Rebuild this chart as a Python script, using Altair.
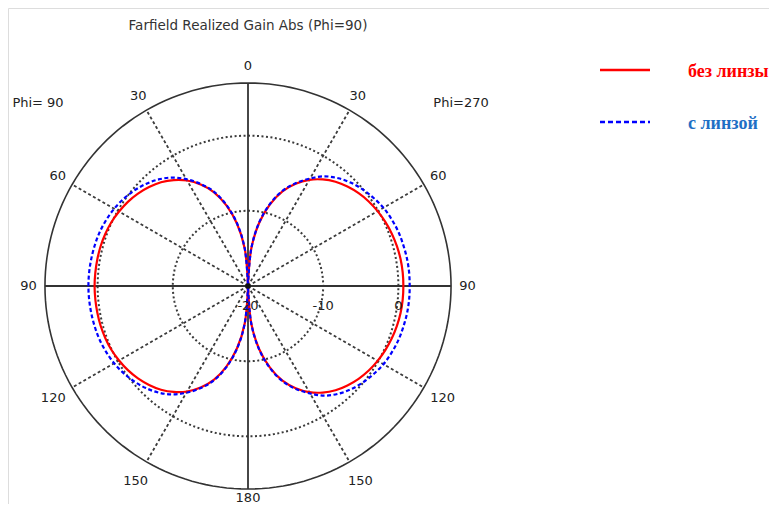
import altair as alt
import pandas as pd
import numpy as np

# ---------------- data ----------------
theta_deg = list(range(0, 181, 5))  # theta 0..180, step 5

# right half (Phi=270)
red_right = [-25, -15, -11.5, -8.8, -6.6, -5.0, -3.7, -2.7, -1.9, -1.3, -0.8, -0.4, -0.1, 0.15, 0.35, 0.5, 0.6, 0.65, 0.66,
             0.65, 0.6, 0.5, 0.35, 0.15, -0.1, -0.4, -0.8, -1.3, -1.9, -2.7, -3.7, -5.0, -6.6, -8.8, -11.5, -15, -25]
blue_right = [-25, -15, -11.4, -8.7, -6.5, -4.9, -3.5, -2.2, -1.3, -0.6, -0.05, 0.4, 0.8, 1.05, 1.25, 1.35, 1.45, 1.5, 1.5,
              1.5, 1.45, 1.35, 1.25, 1.05, 0.8, 0.4, -0.05, -0.6, -1.3, -2.2, -3.5, -4.9, -6.5, -8.7, -11.4, -15, -25]
# left half (Phi=90)
red_left = [-25, -15, -11.6, -8.9, -6.7, -5.1, -3.8, -2.8, -2.0, -1.4, -0.9, -0.5, -0.2, 0.05, 0.2, 0.3, 0.35, 0.38, 0.4,
            0.38, 0.35, 0.3, 0.2, 0.05, -0.2, -0.5, -0.9, -1.4, -2.0, -2.8, -3.8, -5.1, -6.7, -8.9, -11.6, -15, -25]
blue_left = [-25, -15, -11.5, -8.8, -6.6, -5.0, -3.6, -2.4, -1.5, -0.8, -0.25, 0.2, 0.55, 0.8, 0.98, 1.08, 1.15, 1.2, 1.22,
             1.2, 1.15, 1.08, 0.98, 0.8, 0.55, 0.2, -0.25, -0.8, -1.5, -2.4, -3.6, -5.0, -6.6, -8.8, -11.5, -15, -25]

series_names = ["без линзы", "с линзой"]
grid_levels = [-10, 0]           # dotted circles (dB)
outer_level = 7                  # outer circle (dB)
min_level = -20                  # centre (dB)
spoke_angles = [30, 60, 120, 150, 210, 240, 300, 330]
axis_angles = [0, 90, 180, 270]
angle_label_pos = [0, 30, 60, 90, 120, 150, 180, 210, 240, 270, 300, 330]
angle_label_txt = ["0", "30", "60", "90", "120", "150", "180", "150", "120", "90", "60", "30"]
radial_ticks = [-20, -10, 0]
title_text = "Farfield Realized Gain Abs (Phi=90)"

# ---------------- geometry of the view ----------------
PX = 7.52            # pixels per dB on the radial scale
W, H = 761, 496
CX, CY = 240, 278    # centre of the polar plot in plot-area pixels
xs = alt.Scale(domain=[-CX / PX, (W - CX) / PX], nice=False, zero=False)
ys = alt.Scale(domain=[-(H - CY) / PX, CY / PX], nice=False, zero=False)


def radius(g):
    return np.maximum(np.asarray(g, dtype=float) - min_level, 0.0)


def build(series, right, left):
    rows = []
    for t, g in zip(theta_deg, right):
        rows.append((series, t, g))
    for t, g in zip(reversed(theta_deg), reversed(left)):
        rows.append((series, 360 - t, g))
    df = pd.DataFrame(rows, columns=["series", "ang", "gain"])
    r = radius(df["gain"])
    a = np.radians(df["ang"])
    df["x"] = r * np.sin(a)
    df["y"] = r * np.cos(a)
    return df


red_df = build(series_names[0], red_right, red_left)
blue_df = build(series_names[1], blue_right, blue_left)

ring_ang = np.arange(0, 361, 2)
ring_rows = []
for lv in grid_levels + [outer_level]:
    r = lv - min_level
    for a in ring_ang:
        ring_rows.append((lv, a, r * np.sin(np.radians(a)), r * np.cos(np.radians(a))))
rings = pd.DataFrame(ring_rows, columns=["lv", "ang", "x", "y"])

R_out = outer_level - min_level


def rays(angles):
    a = np.radians(angles)
    return pd.DataFrame({"x": 0.0, "y": 0.0, "x2": R_out * np.sin(a), "y2": R_out * np.cos(a)})


spokes = rays(spoke_angles)
axes_df = rays(axis_angles)

# label ring: a little further out on the lower half, 180 pulled in to stay inside the page
lr = []
for a in angle_label_pos:
    d = min(a, 360 - a)
    lr.append(29.2 if d <= 90 else (29.9 if d < 180 else 28.2))
la = np.radians(angle_label_pos)
ang_labels = pd.DataFrame({"x": np.array(lr) * np.sin(la), "y": np.array(lr) * np.cos(la), "t": angle_label_txt})
rad_labels = pd.DataFrame({"x": [v - min_level for v in radial_ticks], "y": 0.0,
                           "t": [str(v) for v in radial_ticks]})

X = lambda f="x": alt.X(f"{f}:Q", scale=xs, axis=None)
Y = lambda f="y": alt.Y(f"{f}:Q", scale=ys, axis=None)

FONT = "DejaVu Sans"
TXT = "#222222"
GRID = "#3a3a3a"

grid_dotted = alt.Chart(rings[rings.lv != outer_level]).mark_line(
    color=GRID, strokeWidth=2, strokeDash=[2, 2.5]
).encode(x=X(), y=Y(), detail="lv:N", order="ang:Q")

outer = alt.Chart(rings[rings.lv == outer_level]).mark_line(
    color="#333333", strokeWidth=1.6
).encode(x=X(), y=Y(), order="ang:Q")

spoke_layer = alt.Chart(spokes).mark_rule(color=GRID, strokeWidth=1.8, strokeDash=[3, 2.5]).encode(
    x=X(), y=Y(), x2="x2:Q", y2="y2:Q")

axes_layer = alt.Chart(axes_df).mark_rule(color="#333333", strokeWidth=1.8).encode(
    x=X(), y=Y(), x2="x2:Q", y2="y2:Q")

red_line = alt.Chart(red_df).mark_line(color="#ff0000", strokeWidth=2.2, interpolate="catmull-rom").encode(
    x=X(), y=Y(), order="ang:Q")
blue_line = alt.Chart(blue_df).mark_line(color="#0000ff", strokeWidth=2.2, strokeDash=[4, 2.5],
                                         interpolate="catmull-rom").encode(x=X(), y=Y(), order="ang:Q")

centre = alt.Chart(pd.DataFrame({"x": [0.0], "y": [0.0]})).mark_point(
    filled=True, color="#111111", size=30, opacity=1).encode(x=X(), y=Y())

ang_text = alt.Chart(ang_labels).mark_text(font=FONT, fontSize=13, color=TXT, baseline="middle",
                                           align="center").encode(x=X(), y=Y(), text="t:N")
rad_text = alt.Chart(rad_labels).mark_text(font=FONT, fontSize=13, color=TXT, baseline="middle",
                                           align="center", dy=20).encode(x=X(), y=Y(), text="t:N")

anno = pd.DataFrame({"t": [title_text, "Phi= 90", "Phi=270"]})
title_layer = alt.Chart(anno.iloc[[0]]).mark_text(font=FONT, fontSize=13.5, color="#333333", align="center",
                                                  baseline="middle").encode(
    x=alt.value(240), y=alt.value(18), text="t:N")
phi_l = alt.Chart(anno.iloc[[1]]).mark_text(font=FONT, fontSize=13, color=TXT, align="center",
                                            baseline="middle").encode(x=alt.value(30), y=alt.value(95), text="t:N")
phi_r = alt.Chart(anno.iloc[[2]]).mark_text(font=FONT, fontSize=13, color=TXT, align="center",
                                            baseline="middle").encode(x=alt.value(453), y=alt.value(95), text="t:N")

leg = pd.DataFrame({"t": series_names})
leg_red_line = alt.Chart(leg.iloc[[0]]).mark_rule(color="#ff0000", strokeWidth=2.5).encode(
    x=alt.value(592), x2=alt.value(642), y=alt.value(62))
leg_blue_line = alt.Chart(leg.iloc[[1]]).mark_rule(color="#0000ff", strokeWidth=2.5, strokeDash=[5, 3]).encode(
    x=alt.value(592), x2=alt.value(642), y=alt.value(114))
leg_red_txt = alt.Chart(leg.iloc[[0]]).mark_text(font="Liberation Serif", fontWeight="bold", fontSize=18,
                                                 color="#ff0000", align="left", baseline="middle").encode(
    x=alt.value(680), y=alt.value(64), text="t:N")
leg_blue_txt = alt.Chart(leg.iloc[[1]]).mark_text(font="Liberation Serif", fontWeight="bold", fontSize=18,
                                                  color="#1f6fc5", align="left", baseline="middle").encode(
    x=alt.value(680), y=alt.value(116), text="t:N")

chart = alt.layer(
    grid_dotted, spoke_layer, outer, axes_layer, red_line, blue_line, centre,
    ang_text, rad_text, title_layer, phi_l, phi_r,
    leg_red_line, leg_blue_line, leg_red_txt, leg_blue_txt
).properties(
    width=W, height=H, padding=0, autosize=alt.AutoSizeParams(type="none")
).configure_view(stroke=None, strokeWidth=0).configure(background="white")

chart.save("out.html", embed_options={"renderer": "svg", "actions": False})
